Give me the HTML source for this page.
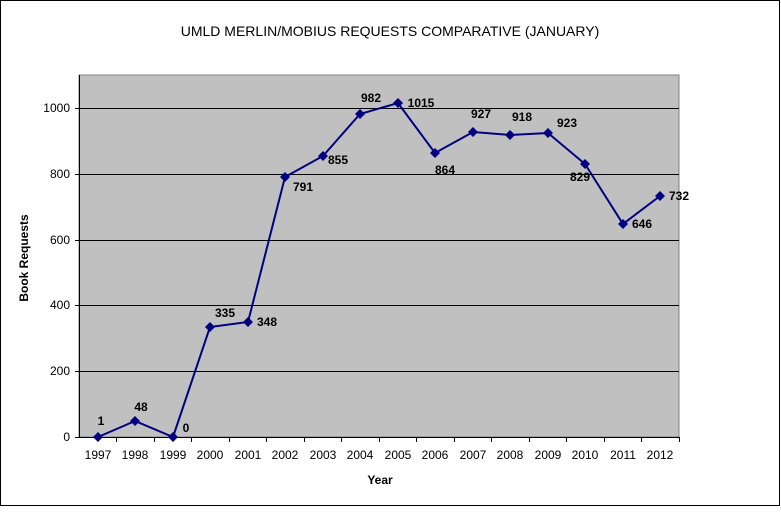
<!DOCTYPE html>
<html><head><style>
body{margin:0;background:#fff}
svg text{font-family:"Liberation Sans",Arial,sans-serif}
</style></head><body>
<svg width="781" height="507" viewBox="0 0 781 507" xmlns="http://www.w3.org/2000/svg">
<rect x="0.5" y="0.5" width="779" height="505" fill="#fff" stroke="#000"/>
<text x="390" y="36" font-size="14" text-anchor="middle">UMLD MERLIN/MOBIUS REQUESTS COMPARATIVE (JANUARY)</text>
<rect x="79" y="75" width="600" height="362" fill="#c0c0c0" stroke="#808080"/>
<g stroke="#000" stroke-width="1">
<line x1="79" y1="108.5" x2="679" y2="108.5"/>
<line x1="79" y1="174.5" x2="679" y2="174.5"/>
<line x1="79" y1="240.5" x2="679" y2="240.5"/>
<line x1="79" y1="305.5" x2="679" y2="305.5"/>
<line x1="79" y1="371.5" x2="679" y2="371.5"/>
<line x1="79.5" y1="75" x2="79.5" y2="437"/>
<line x1="75" y1="437.5" x2="679" y2="437.5"/>
<line x1="75" y1="108.5" x2="79" y2="108.5"/><line x1="75" y1="174.5" x2="79" y2="174.5"/><line x1="75" y1="240.5" x2="79" y2="240.5"/><line x1="75" y1="305.5" x2="79" y2="305.5"/><line x1="75" y1="371.5" x2="79" y2="371.5"/>
</g>
<g stroke="#000"><path d="M116.5 437v5M154.5 437v5M191.5 437v5M229.5 437v5M266.5 437v5M304.5 437v5M341.5 437v5M379.5 437v5M416.5 437v5M454.5 437v5M491.5 437v5M529.5 437v5M566.5 437v5M604.5 437v5M641.5 437v5M679.5 437v5"/></g>
<g font-size="12" text-anchor="end">
<text x="70" y="112">1000</text><text x="70" y="178">800</text><text x="70" y="244">600</text><text x="70" y="309">400</text><text x="70" y="375">200</text><text x="70" y="441">0</text>
</g>
<g font-size="12" text-anchor="middle">
<text x="98" y="459">1997</text><text x="135" y="459">1998</text><text x="173" y="459">1999</text><text x="210" y="459">2000</text><text x="248" y="459">2001</text><text x="285" y="459">2002</text><text x="323" y="459">2003</text><text x="360" y="459">2004</text><text x="398" y="459">2005</text><text x="435" y="459">2006</text><text x="473" y="459">2007</text><text x="510" y="459">2008</text><text x="548" y="459">2009</text><text x="585" y="459">2010</text><text x="623" y="459">2011</text><text x="660" y="459">2012</text>
</g>
<text x="380" y="484" font-size="12" font-weight="bold" text-anchor="middle">Year</text>
<text transform="translate(28,258) rotate(-90)" font-size="12" font-weight="bold" text-anchor="middle">Book Requests</text>
<polyline fill="none" stroke="#000080" stroke-width="2" points="98,437 135,421 173,437 210,327 248,322 285,177 323,156 360,114 398,103 435,153 473,132 510,135 548,133 585,164 623,224 660,196"/>
<g fill="#000080">
<path d="M98 432l5 5-5 5-5-5z"/><path d="M135 416l5 5-5 5-5-5z"/><path d="M173 432l5 5-5 5-5-5z"/><path d="M210 322l5 5-5 5-5-5z"/><path d="M248 317l5 5-5 5-5-5z"/><path d="M285 172l5 5-5 5-5-5z"/><path d="M323 151l5 5-5 5-5-5z"/><path d="M360 109l5 5-5 5-5-5z"/><path d="M398 98l5 5-5 5-5-5z"/><path d="M435 148l5 5-5 5-5-5z"/><path d="M473 127l5 5-5 5-5-5z"/><path d="M510 130l5 5-5 5-5-5z"/><path d="M548 128l5 5-5 5-5-5z"/><path d="M585 159l5 5-5 5-5-5z"/><path d="M623 219l5 5-5 5-5-5z"/><path d="M660 191l5 5-5 5-5-5z"/>
</g>
<g font-size="12" font-weight="bold" text-anchor="middle">
<text x="101" y="425">1</text><text x="141" y="411">48</text><text x="186" y="432">0</text><text x="225" y="317">335</text><text x="267" y="326">348</text><text x="303" y="191">791</text><text x="338" y="164">855</text><text x="371" y="102">982</text><text x="421" y="107">1015</text><text x="445" y="174">864</text><text x="481" y="118">927</text><text x="522" y="121">918</text><text x="567" y="127">923</text><text x="580" y="181">829</text><text x="642" y="228">646</text><text x="679" y="200">732</text>
</g>
</svg>
</body></html>
